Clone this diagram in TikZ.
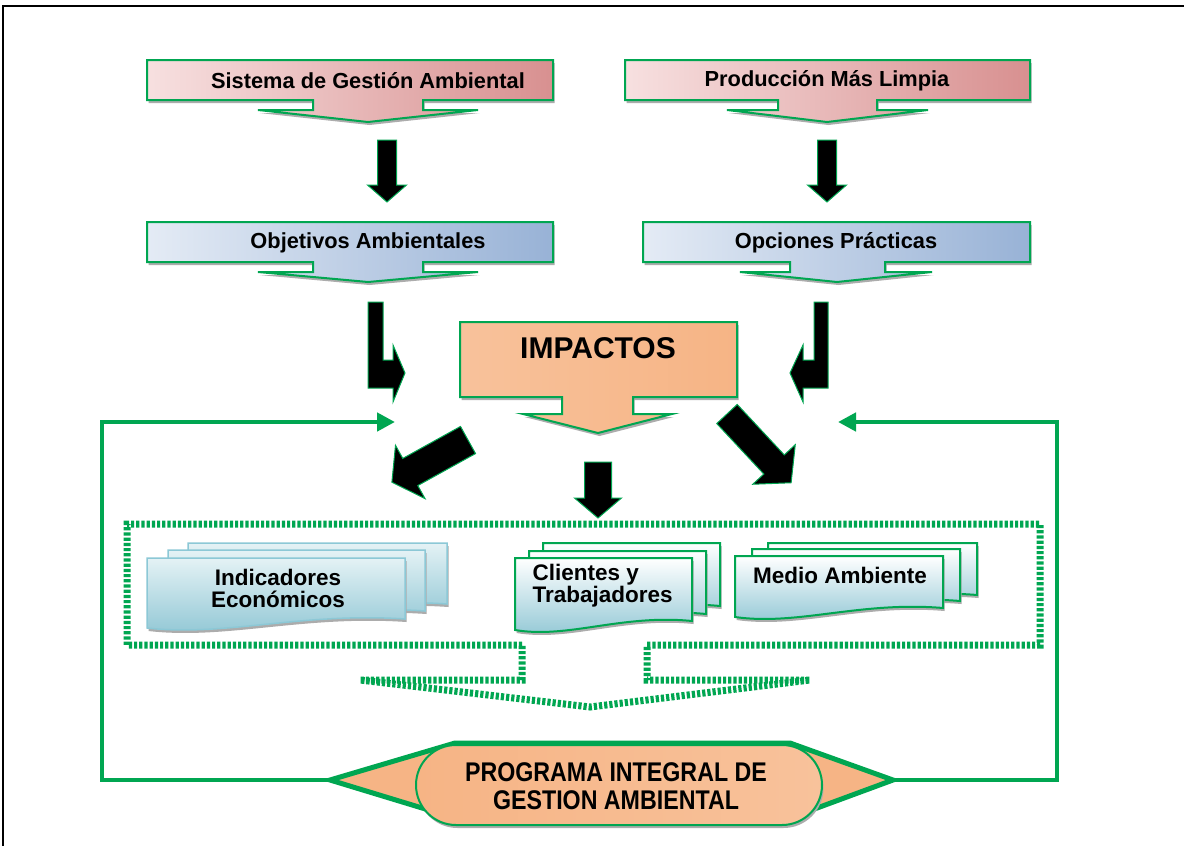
\documentclass[tikz,border=0pt]{standalone}
\usepackage{fontspec}
\setmainfont{Liberation Sans}
\newfontfamily\narrowsf{Liberation Sans}[FakeStretch=0.86]
\usepackage{tikz}
\usetikzlibrary{arrows.meta,shadows}
\definecolor{gline}{HTML}{00A651}
\definecolor{pinkL}{HTML}{F7E0E0}
\definecolor{pinkR}{HTML}{D89090}
\definecolor{blueL}{HTML}{E4EBF5}
\definecolor{blueR}{HTML}{98B2D6}
\definecolor{peachL}{HTML}{F8C29B}
\definecolor{peachM}{HTML}{FDE9DB}
\definecolor{peachR}{HTML}{F6B485}
\definecolor{docT}{HTML}{E4F2F5}
\definecolor{docB}{HTML}{8FC6D4}
\definecolor{docE}{HTML}{8CC8D6}

% block arrow: tail x, tail y, angle, length, shaft width, head width, head length
\newcommand{\blockarrow}[7]{%
  \begin{scope}[shift={(#1,#2)}, rotate=#3]
    \draw[blkarrow] (0,{-#5/2}) -- ({#4-#7},{-#5/2}) -- ({#4-#7},{-#6/2}) -- (#4,0)
      -- ({#4-#7},{#6/2}) -- ({#4-#7},{#5/2}) -- (0,{#5/2}) -- cycle;
  \end{scope}}

% document page with wavy bottom: x1, x2, top, bottom, style
\newcommand{\docpage}[5]{%
  \draw[#5] (#1,#3) -- (#2,#3) -- (#2,{#4-9})
    .. controls ({#1+0.6*(#2-#1)},{#4-16}) and ({#1+0.3*(#2-#1)},{#4+9}) .. (#1,#4) -- cycle;}

\begin{document}
\begin{tikzpicture}[x=1pt, y=-1pt, line join=miter]

\tikzstyle{shadowed}=[drop shadow={shadow xshift=1.5pt, shadow yshift=-3pt, fill=gray!65, opacity=1}]
\tikzstyle{pinkbox}=[shadowed, draw=gline, line width=2pt, left color=pinkL, right color=pinkR]
\tikzstyle{bluebox}=[shadowed, draw=gline, line width=2pt, left color=blueL, right color=blueR]
\tikzstyle{peachbox}=[shadowed, draw=gline, line width=2pt, left color=peachL, middle color=peachM, right color=peachR]
\tikzstyle{blkarrow}=[fill=black, draw=gline, line width=1pt]
\tikzstyle{fbline}=[draw=gline, line width=4.5pt]
\tikzstyle{dashbox}=[draw=gline, line width=7pt, dash pattern=on 3.2pt off 2pt]
\tikzstyle{docplain}=[shadowed, draw=docE, line width=1.5pt, top color=docT, bottom color=docB]
\tikzstyle{docgreen}=[shadowed, draw=gline, line width=2pt, top color=white, bottom color=docB]
\tikzstyle{boxtext}=[font=\fontsize{21.8}{25}\selectfont\bfseries]
\tikzstyle{doctext}=[font=\fontsize{22.5}{22}\selectfont\bfseries, align=center]

\useasboundingbox (0,0) rectangle (1184,846);
\fill[white] (0,0) rectangle (1184,846);
\draw[line width=2pt] (3,846) -- (3,6) -- (1184,6);

% top callouts
\draw[pinkbox] (147,60) -- (553,60) -- (553,100) -- (423,100) -- (423,110) -- (478,110) -- (368,122)
  -- (258,110) -- (313,110) -- (313,100) -- (147,100) -- cycle;
\draw[pinkbox] (625,60) -- (1030,60) -- (1030,100) -- (877,100) -- (877,110) -- (928,110) -- (827,122)
  -- (727,110) -- (778,110) -- (778,100) -- (625,100) -- cycle;
\node[boxtext] (sga) at (368,81) {Sistema de Gestión Ambiental};
\node[boxtext] (pml) at (827,81) {Producción Más Limpia};

\blockarrow{387}{140}{-90}{62}{19}{39}{17}
\blockarrow{827}{140}{-90}{62}{19}{39}{17}

\draw[bluebox] (147,222) -- (553,222) -- (553,262) -- (423,262) -- (423,272) -- (478,272) -- (368,282)
  -- (258,272) -- (313,272) -- (313,262) -- (147,262) -- cycle;
\draw[bluebox] (643,222) -- (1030,222) -- (1030,262) -- (885,262) -- (885,272) -- (932,272) -- (837,282)
  -- (740,272) -- (790,272) -- (790,262) -- (643,262) -- cycle;
\node[boxtext] (obj) at (368,243) {Objetivos Ambientales};
\node[boxtext] (opc) at (836,243) {Opciones Prácticas};

% bent arrows into the middle
\draw[blkarrow] (368,302) -- (383,302) -- (383,360) -- (393,360) -- (393,345) -- (405,373) -- (393,402)
  -- (393,388) -- (368,388) -- cycle;
\draw[blkarrow] (814,302) -- (828,302) -- (828,388) -- (803,388) -- (803,402) -- (790,373) -- (803,345)
  -- (803,360) -- (814,360) -- cycle;

% impactos
\draw[peachbox] (460,322) -- (737,322) -- (737,397) -- (633,397) -- (633,414) -- (672,414) -- (598,433)
  -- (523,414) -- (562,414) -- (562,397) -- (460,397) -- cycle;
\node[font=\fontsize{30}{30}\selectfont\bfseries] (imp) at (598,348) {IMPACTOS};

\blockarrow{468}{440}{-151}{87}{31}{61}{21}
\blockarrow{727}{414}{-47}{94}{28}{58}{25}
\blockarrow{598}{462}{-90}{56}{27}{47}{20}

% dashed frame round the indicators
\draw[dashbox] (522,645) -- (127,645) -- (127,524) -- (1040,524) -- (1040,645) -- (647,645) -- (647,680)
  -- (810,680) -- (590,707) -- (360,680) -- (522,680) -- cycle;

\docpage{188}{447}{543}{613}{docplain}
\docpage{168}{425}{550}{620}{docplain}
\docpage{147}{405}{558}{628}{docplain}
\node[doctext] (indic) at (278,588) {Indicadores\\Económicos};

\docpage{543}{720}{543}{615}{docgreen}
\docpage{529}{706}{551}{623}{docgreen}
\docpage{515}{692}{558}{630}{docgreen}
\node[doctext, align=left, anchor=west] (client) at (529,586) {Clientes y\\Trabajadores};

\docpage{768}{977}{543}{604}{docgreen}
\docpage{752}{960}{549}{610}{docgreen}
\docpage{735}{943}{556}{617}{docgreen}
\node[doctext] (medio) at (840,575) {Medio Ambiente};

% programa integral
\coordinate (hexL) at (330,780);
\coordinate (hexR) at (893,780);
\coordinate (fbL) at (395,422);
\coordinate (fbR) at (838,422);
\draw[fbline, -{Triangle[length=18pt,width=18pt]}] (hexL) -| (102,422) -- (fbL);
\draw[fbline, -{Triangle[length=18pt,width=18pt]}] (hexR) -| (1057,422) -- (fbR);
\draw[draw=gline, line width=5pt, fill=peachR] (hexL) -- (455,743) -- (790,743) -- (hexR) -- (790,818)
  -- (455,818) -- cycle;
\draw[shadowed, draw=gline, line width=2pt, rounded corners=40pt, left color=peachR, middle color=peachM,
  right color=peachL] (416,745) rectangle (822,825);
\node[font=\fontsize{27}{28}\selectfont\narrowsf\bfseries, align=center] (prog) at (616,786)
  {PROGRAMA INTEGRAL DE\\GESTION AMBIENTAL};

\end{tikzpicture}
\end{document}
